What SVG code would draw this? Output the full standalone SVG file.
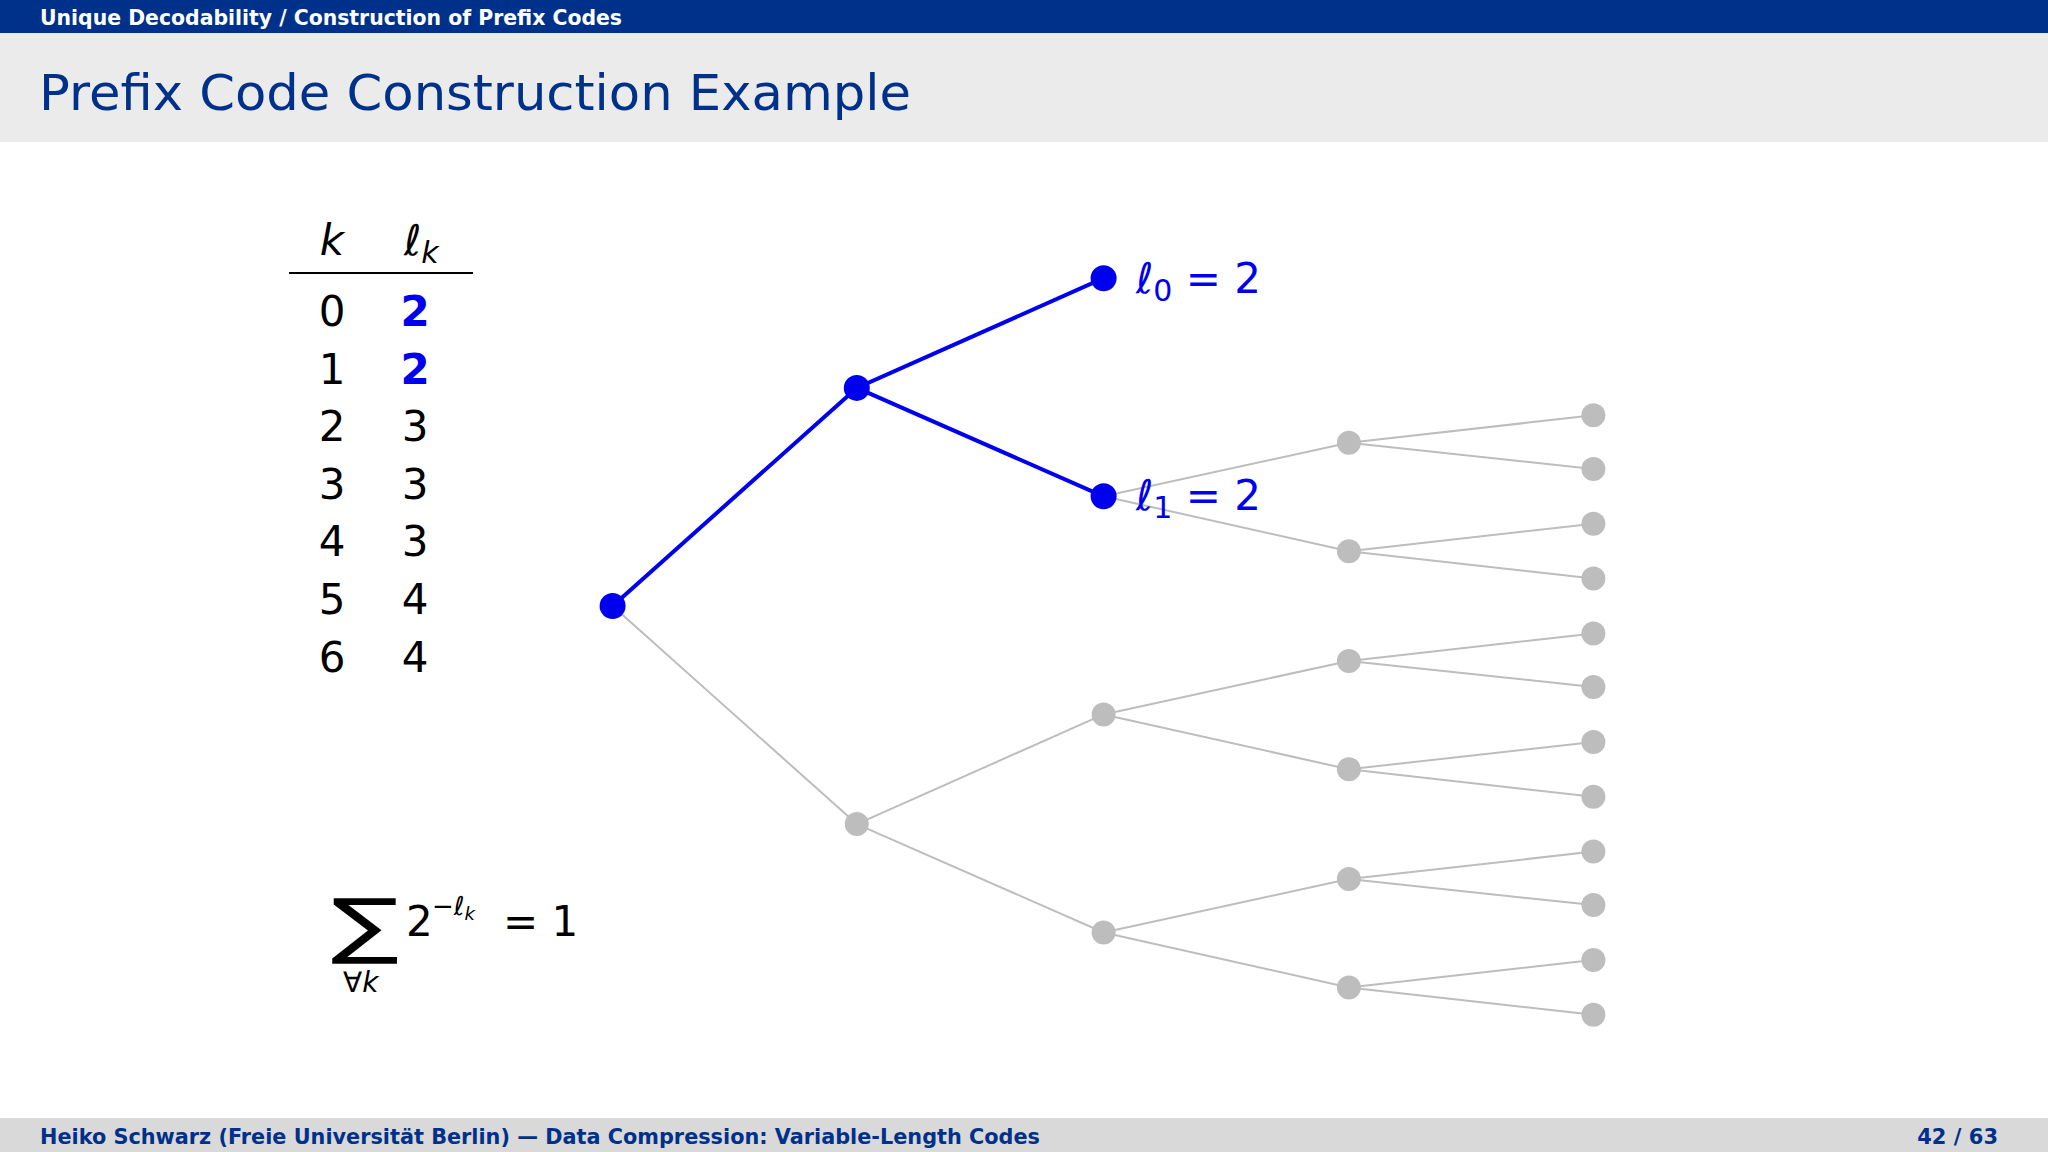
<svg xmlns="http://www.w3.org/2000/svg" width="2048" height="1152" viewBox="0 0 2048 1152">
<style>
.sf{font-family:"DejaVu Sans","Liberation Sans",sans-serif}
.m{font-family:"DejaVu Sans","Liberation Sans",sans-serif}
.num{font-family:"DejaVu Sans",sans-serif;font-size:42px;fill:#000}
.g{stroke:#bdbdbd;stroke-width:2;fill:none}
.b{stroke:#0000ee;stroke-width:4;fill:none}
.gn{fill:#bdbdbd}
.bn{fill:#0000ee}
</style>
<rect x="0" y="0" width="2048" height="33" fill="#00318a"/>
<text x="40" y="25" class="sf" font-size="21" font-weight="bold" fill="#fff" textLength="582" lengthAdjust="spacingAndGlyphs">Unique Decodability / Construction of Prefix Codes</text>
<rect x="0" y="33" width="2048" height="109" fill="#ebebeb"/>
<text x="39" y="110" class="sf" font-size="50" fill="#00318a" textLength="872" lengthAdjust="spacingAndGlyphs">Prefix Code Construction Example</text>
<rect x="0" y="1118" width="2048" height="34" fill="#d9d9d9"/>
<text x="40" y="1144" class="sf" font-size="21" font-weight="bold" fill="#00318a" textLength="1000" lengthAdjust="spacingAndGlyphs">Heiko Schwarz (Freie Universität Berlin) — Data Compression: Variable-Length Codes</text>
<text x="1998" y="1144" class="sf" font-size="21" font-weight="bold" fill="#00318a" text-anchor="end">42 / 63</text>

<g id="table">
<text x="332" y="255" class="m" font-size="42" font-style="italic" text-anchor="middle">k</text>
<text x="404" y="255" class="m" font-size="42" font-style="italic">ℓ<tspan font-size="30" dy="8">k</tspan></text>
<line x1="289" y1="273" x2="473" y2="273" stroke="#000" stroke-width="2"/>
<g class="num" text-anchor="middle">
<text x="332" y="326">0</text><text x="415" y="326" fill="#0000ee" font-weight="bold">2</text>
<text x="332" y="384">1</text><text x="415" y="384" fill="#0000ee" font-weight="bold">2</text>
<text x="332" y="441">2</text><text x="415" y="441">3</text>
<text x="332" y="499">3</text><text x="415" y="499">3</text>
<text x="332" y="556">4</text><text x="415" y="556">3</text>
<text x="332" y="614">5</text><text x="415" y="614">4</text>
<text x="332" y="672">6</text><text x="415" y="672">4</text>
</g>
</g>

<g id="formula">
<text x="331" y="950" class="m" font-size="72" textLength="68" lengthAdjust="spacingAndGlyphs">∑</text>
<text x="343" y="992" class="m" font-size="28">∀<tspan font-style="italic">k</tspan></text>
<text x="406" y="936" class="m" font-size="42">2</text>
<text x="432" y="915" class="m" font-size="26">−<tspan font-style="italic">ℓ</tspan><tspan font-size="18" font-style="italic" dy="5">k</tspan></text>
<text x="503" y="936" class="m" font-size="42">= 1</text>
</g>

<g id="connectors">
<path class="g" d="M612.6,606 L856.8,824.1 M856.8,824.1 L1103.6,714.4 M856.8,824.1 L1103.6,932.5
M1103.6,496.3 L1348.9,442.8 M1103.6,496.3 L1348.9,551.2
M1103.6,714.4 L1348.9,660.9 M1103.6,714.4 L1348.9,769.3
M1103.6,932.5 L1348.9,879 M1103.6,932.5 L1348.9,987.4
M1348.9,442.8 L1593.4,415.3 M1348.9,442.8 L1593.4,468.9
M1348.9,551.2 L1593.4,523.7 M1348.9,551.2 L1593.4,578.6
M1348.9,660.9 L1593.4,633.5 M1348.9,660.9 L1593.4,687
M1348.9,769.3 L1593.4,741.9 M1348.9,769.3 L1593.4,796.7
M1348.9,879 L1593.4,851.6 M1348.9,879 L1593.4,905.1
M1348.9,987.4 L1593.4,960 M1348.9,987.4 L1593.4,1014.8"/>
<path class="b" d="M612.6,606 L856.8,387.9 L1103.6,278.2 M856.8,387.9 L1103.6,496.3"/>
</g>

<g id="nodes">
<g class="gn">
<circle cx="856.8" cy="824.1" r="12"/>
<circle cx="1103.6" cy="714.4" r="12"/><circle cx="1103.6" cy="932.5" r="12"/>
<circle cx="1348.9" cy="442.8" r="12"/><circle cx="1348.9" cy="551.2" r="12"/><circle cx="1348.9" cy="660.9" r="12"/>
<circle cx="1348.9" cy="769.3" r="12"/><circle cx="1348.9" cy="879" r="12"/><circle cx="1348.9" cy="987.4" r="12"/>
<circle cx="1593.4" cy="415.3" r="12"/><circle cx="1593.4" cy="468.9" r="12"/><circle cx="1593.4" cy="523.7" r="12"/>
<circle cx="1593.4" cy="578.6" r="12"/><circle cx="1593.4" cy="633.5" r="12"/><circle cx="1593.4" cy="687" r="12"/>
<circle cx="1593.4" cy="741.9" r="12"/><circle cx="1593.4" cy="796.7" r="12"/><circle cx="1593.4" cy="851.6" r="12"/>
<circle cx="1593.4" cy="905.1" r="12"/><circle cx="1593.4" cy="960" r="12"/><circle cx="1593.4" cy="1014.8" r="12"/>
</g>
<g class="bn">
<circle cx="612.6" cy="606" r="13"/>
<circle cx="856.8" cy="387.9" r="13"/>
<circle cx="1103.6" cy="278.2" r="13"/>
<circle cx="1103.6" cy="496.3" r="13"/>
</g>
</g>

<g id="labels" fill="#0000ee">
<text x="1136" y="293" class="m" font-size="42"><tspan font-style="italic">ℓ</tspan><tspan font-size="30" dy="8">0</tspan><tspan dy="-8"> = 2</tspan></text>
<text x="1136" y="510" class="m" font-size="42"><tspan font-style="italic">ℓ</tspan><tspan font-size="30" dy="8">1</tspan><tspan dy="-8"> = 2</tspan></text>
</g>
</svg>
